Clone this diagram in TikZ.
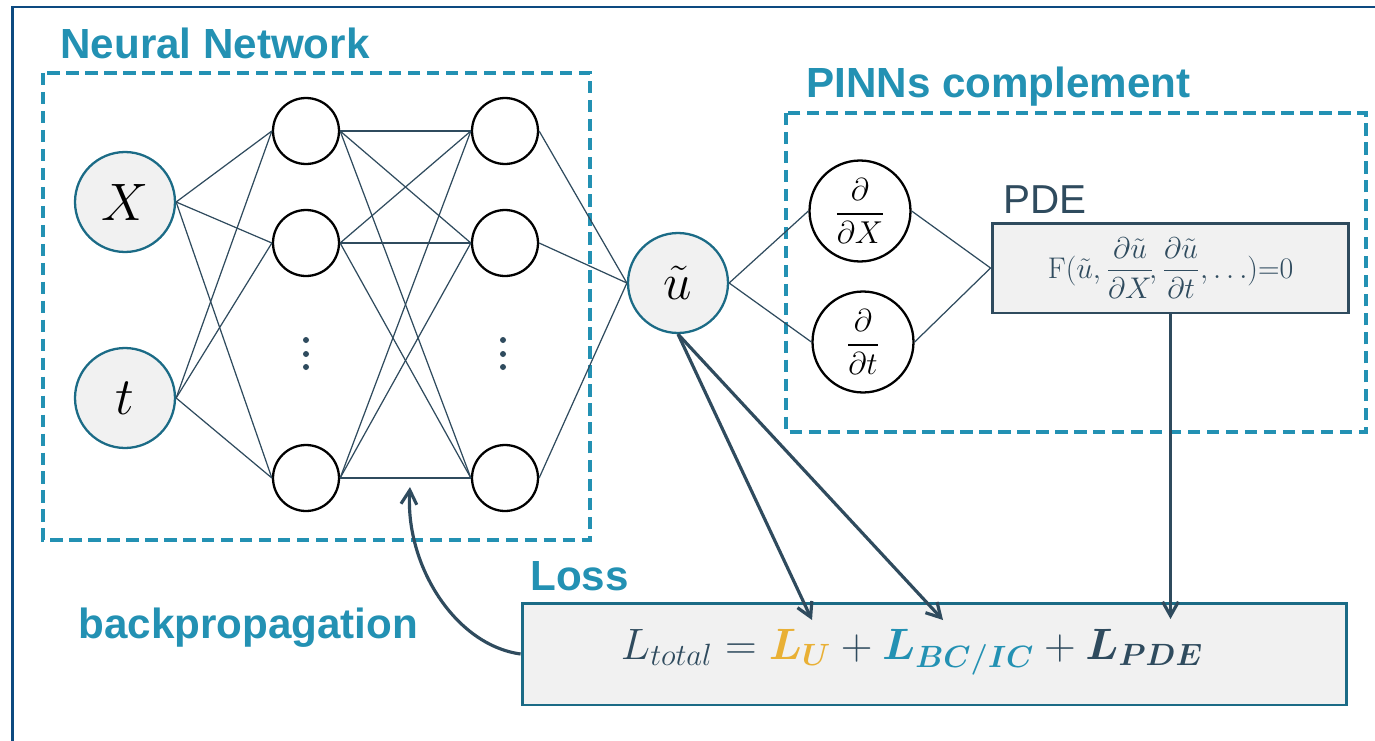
\RequirePackage{fix-cm}
\documentclass[tikz,border=0pt]{standalone}
\usepackage{amsmath}
\usepackage{bm}
\usepackage{fontspec}
\setsansfont{Liberation Sans}
\usepackage{tikz}
\usetikzlibrary{arrows.meta,positioning}
\definecolor{pinnteal}{HTML}{2391B3}
\definecolor{pinnslate}{HTML}{2F4B5E}
\definecolor{pinnring}{HTML}{1B6B86}
\definecolor{pinngray}{HTML}{F1F1F1}
\definecolor{pinngold}{HTML}{E9B035}
\definecolor{pinnnavy}{HTML}{0D4A80}
\newcommand{\fsz}[1]{\fontsize{#1}{#1}\selectfont}

\begin{document}
\begin{tikzpicture}[x=0.02cm, y=-0.02cm, >={Straight Barb[length=8pt,width=9pt]},
  every node/.style={align=center},
  grouplabel/.style={font=\sffamily\bfseries\fsz{24}, text=pinnteal, inner sep=0pt, anchor=base west},
  groupbox/.style={draw=pinnteal, line width=2.1pt, dash pattern=on 7pt off 3.8pt},
  nnin/.style={circle, draw=pinnring, line width=1.3pt, fill=pinngray, minimum size=2cm, inner sep=0pt, font=\fsz{30}},
  nnhid/.style={circle, draw=black, line width=1.3pt, minimum size=1.32cm, inner sep=0pt},
  dnode/.style={circle, draw=black, line width=1.3pt, minimum size=2.02cm, inner sep=0pt, font=\fsz{18}},
  eqbox/.style={draw, fill=pinngray, line width=1.7pt, inner sep=0pt, text=pinnslate},
  wire/.style={pinnslate, line width=0.7pt},
  flow/.style={->, pinnslate, line width=1.8pt}]
  \useasboundingbox (0,0) rectangle (1375,740);

  % outer frame (only left and top edges are visible)
  \draw[pinnnavy, line width=1.5pt] (12.5,760) -- (12.5,7) -- (1390,7);

  % group frames and their labels
  \draw[groupbox] (43,73) rectangle (590,540);
  \draw[groupbox] (786,113) rectangle (1366,432);
  \node[grouplabel] (nnlabel) at (60,59) {Neural Network};
  \node[grouplabel] (pinnlabel) at (806,97) {PINNs complement};

  % network
  \node[nnin] (X) at (125,202) {$X$};
  \node[nnin] (t) at (125,398) {$t$};
  \foreach \name/\yy in {1/131, 2/243, 3/478} {
    \node[nnhid] (ha\name) at (306,\yy) {};
    \node[nnhid] (hb\name) at (505,\yy) {};
  }
  \foreach \yy in {340,354,367} {
    \fill[pinnslate] (306,\yy) circle (3);
    \fill[pinnslate] (503,\yy) circle (3);
  }
  \node[nnin, font=\fsz{29}] (u) at (678,283) {$\tilde{u}$};

  \foreach \i in {1,2,3} {
    \draw[wire] (X.east) -- (ha\i.west);
    \draw[wire] (t.east) -- (ha\i.west);
    \foreach \j in {1,2,3}
      \draw[wire] (ha\i.east) -- (hb\j.west);
    \draw[wire] (hb\i.east) -- (u.west);
  }

  % PINNs part
  \node[dnode] (dX) at (860,211) {$\dfrac{\partial}{\partial X}$};
  \node[dnode] (dt) at (863,342) {$\dfrac{\partial}{\partial t}$};
  \node[eqbox, draw=pinnslate, minimum width=7.14cm, minimum height=1.8cm, font=\fsz{17}] (pde) at (1170.5,268)
    {$\mathrm{F}(\tilde{u},\dfrac{\partial\tilde{u}}{\partial X}\!,\dfrac{\partial\tilde{u}}{\partial t},\ldots){=}0$};
  \node[font=\sffamily\fsz{23}, text=pinnslate, inner sep=0pt, anchor=base west] (pdelabel) at (1003,213) {PDE};
  \draw[wire] (u.east) -- (dX.west);
  \draw[wire] (u.east) -- (dt.west);
  \draw[wire] (dX.east) -- (pde.west);
  \draw[wire] (dt.east) -- (pde.west);

  % loss
  \node[eqbox, draw=pinnring, minimum width=16.5cm, minimum height=2.04cm, font=\fsz{25}, text depth=0pt] (loss) at (934.5,654) {};
  \node[text=pinnslate, font=\fsz{25}, inner sep=0pt] (losseq) at (912,652)
    {$L_{total}=\textcolor{pinngold}{\bm{L}_{\bm{U}}}+\textcolor{pinnteal}{\bm{L}_{\bm{BC/IC}}}+\bm{L}_{\bm{PDE}}$};
  \node[grouplabel] (losslabel) at (530,590) {Loss};
  \node[grouplabel] (bplabel) at (78,638) {backpropagation};

  \coordinate (lu) at (812,620);
  \coordinate (lbc) at (943,620);
  \coordinate (lpde) at (1170.5,619);
  \coordinate (bp) at (410,487);
  \draw[flow] (u.south) -- (lu);
  \draw[flow] (u.south) -- (lbc);
  \draw[flow] (pde.south) -- (lpde);
  \draw[flow] (loss.west) .. controls (455,645) and (405,565) .. (bp);
\end{tikzpicture}
\end{document}
